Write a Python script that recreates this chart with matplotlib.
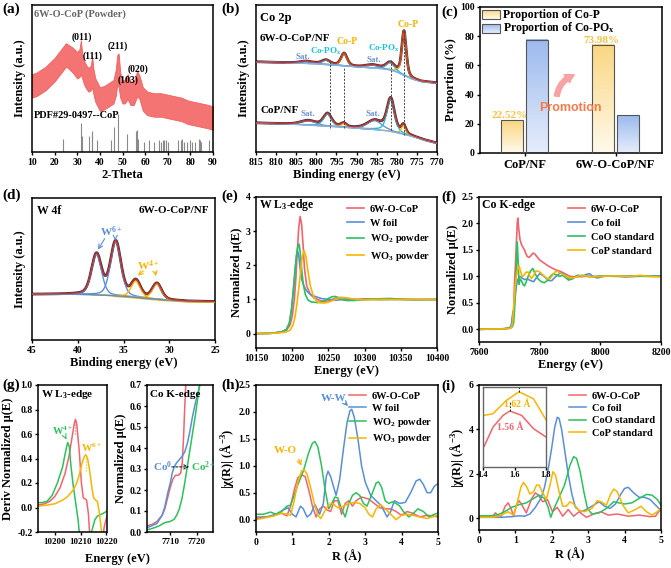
import numpy as np
import matplotlib
matplotlib.use('Agg')
import matplotlib.pyplot as plt
from matplotlib.patches import Rectangle, FancyArrowPatch

plt.rcParams.update({
    'font.family': ['Liberation Serif', 'DejaVu Serif'],
    'font.weight': 'bold',
    'axes.labelweight': 'bold',
    'font.size': 7.5,
    'mathtext.fontset': 'custom',
    'mathtext.rm': 'Liberation Serif:bold',
    'mathtext.it': 'Liberation Serif:italic:bold',
    'mathtext.bf': 'Liberation Serif:bold',
    'mathtext.default': 'rm',
    'axes.linewidth': 1.1,
    'xtick.major.width': 1.0, 'ytick.major.width': 1.0,
    'xtick.major.size': 2.5, 'ytick.major.size': 2.5,
    'xtick.major.pad': 1.5, 'ytick.major.pad': 1.5,
    'xtick.labelsize': 7, 'ytick.labelsize': 7,
    'axes.labelsize': 9, 'axes.labelpad': 2,
})

RED = '#f0646e'; BLUE = '#5a8fd6'; GREEN = '#2ebf5e'; YEL = '#f8b500'
CYAN = '#19c3d6'; SATC = '#6a93d0'; BGC = '#86b3e2'

# ---------------- (a) XRD data ----------------
xrd_x = [10, 12, 14, 16, 18, 20, 22, 24, 25, 26, 28, 30, 31, 31.6, 32.2, 33, 34, 35, 36, 36.6, 37.2, 38, 39, 40, 42, 44,
         46, 47, 47.7, 48.3, 49, 50, 51, 52.3, 53.5, 55, 56.5, 57.5, 59, 61, 64, 67, 70, 73, 76, 79, 82, 85, 88, 90]
xrd_upper = [53, 54, 56, 58, 61, 64, 68, 72, 74, 73, 71, 68, 70, 76, 67, 62, 59, 57, 59, 65, 56, 50, 47, 44, 45, 47,
             49, 56, 66, 67, 54, 49, 49, 53, 48, 48, 55, 52, 44, 41, 40, 40, 39, 38, 37, 35, 34, 33, 32, 31]
xrd_lower = [37, 38, 40, 42, 45, 48, 52, 56, 58, 57, 54, 50, 51, 53, 50, 46, 43, 41, 42, 44, 39, 34, 31, 28, 29, 31,
             33, 38, 46, 44, 37, 33, 33, 36, 32, 32, 38, 36, 28, 25, 24, 24, 23, 22, 21, 19, 18, 17, 16, 15]
pdf_pos = [23.7, 31.6, 31.9, 35.3, 36.3, 36.7, 38.9, 45.1, 46.2, 48.1, 52.2, 56.0, 56.4, 56.8, 59.7, 61.8, 64.1,
           66.2, 67.2, 67.9, 68.5, 69.2, 70.3, 74.7, 75.9, 76.5, 77.2, 78.3, 79.9, 80.7, 81.9, 83.6, 84.1, 84.6, 88.3]
pdf_int = [9, 20, 11, 11, 14, 12, 8, 8, 17, 26, 12, 14, 15, 9, 7, 8, 7, 8, 7, 8, 8, 8, 7, 8, 8, 9, 7, 7, 8, 7, 7,
           9, 8, 7, 8]
hkl_labels = ['(011)', '(111)', '(211)', '(103)', '(020)']
hkl_pos = [(31.8, 78), (36.9, 65), (48.0, 72), (52.4, 49), (56.8, 56)]

# ---------------- (b) Co 2p XPS ----------------
b_up_bg_x = [770, 774, 776, 778, 780, 782, 785, 790, 795, 800, 815]
b_up_bg_y = [47.0, 48.0, 49.5, 52.0, 54.5, 56.0, 57.0, 58.0, 59.0, 60.0, 61.4]
b_up_c = [778.2, 793.1, 781.6, 797.6, 786.0, 802.5]
b_up_h = [30.0, 8.5, 5.0, 3.0, 2.0, 1.5]
b_up_w = [1.3, 1.8, 2.5, 2.5, 4.0, 4.0]
b_up_kind = ['P', 'P', 'O', 'O', 'S', 'S']
b_lo_bg_x = [770, 773, 776, 779, 782, 785, 790, 795, 800, 805, 815]
b_lo_bg_y = [6.0, 8.0, 10.5, 12.5, 14.3, 15.2, 16.2, 17.2, 18.0, 18.8, 19.8]
b_lo_c = [781.5, 778.3, 797.2, 793.2, 785.5, 802.0]
b_lo_h = [22.0, 6.0, 8.5, 2.5, 6.0, 3.0]
b_lo_w = [2.2, 1.3, 2.4, 1.6, 4.5, 4.5]
b_lo_kind = ['O', 'P', 'O', 'P', 'S', 'S']
b_dash_x = [796.7, 793.0, 781.4, 778.1]
b_dash_y0 = [16, 16, 14.8, 11.4]
b_dash_y1 = [62.5, 58, 63.6, 83]

# ---------------- (c) proportions ----------------
c_cats = ['CoP/NF', '6W-O-CoP/NF']
c_cop = [22.52, 73.98]
c_copox = [77.48, 26.02]

# ---------------- (d) W 4f XPS ----------------
d_bg_x = [25, 28, 30, 32, 34, 36, 38, 40, 45]
d_bg_y = [27.0, 27.3, 28.0, 29.0, 30.3, 31.2, 31.8, 32.2, 32.2]
d_c = [37.95, 35.85, 33.65, 31.35]
d_h = [28.5, 38.0, 11.5, 11.0]
d_w = [1.3, 1.35, 1.2, 1.2]
d_kind = ['6', '6', '4', '4']

# ---------------- (e) W L3-edge XANES ----------------
e_red_x = [10150, 10170, 10185, 10192, 10197, 10200, 10203, 10205, 10207, 10209, 10211, 10213, 10215, 10217, 10220,
           10225, 10230, 10235, 10240, 10245, 10250, 10255, 10260, 10265, 10270, 10280, 10290, 10300, 10320, 10340,
           10360, 10380, 10400]
e_red_y = [0, 0.01, 0.04, 0.1, 0.25, 0.5, 1.0, 1.6, 2.4, 3.1, 3.43, 3.2, 2.6, 1.9, 1.4, 1.15, 1.05, 1.0, 0.96, 0.95,
           0.96, 1.0, 1.04, 1.06, 1.05, 1.02, 1.0, 1.02, 1.0, 1.01, 1.0, 1.0, 1.0]
e_blue_x = [10150, 10170, 10185, 10192, 10196, 10199, 10202, 10204, 10206, 10207.5, 10209, 10211, 10213, 10216,
            10220, 10225, 10230, 10240, 10250, 10260, 10270, 10280, 10300, 10320, 10340, 10360, 10400]
e_blue_y = [0, 0.01, 0.05, 0.12, 0.3, 0.7, 1.4, 1.9, 2.3, 2.42, 2.3, 1.9, 1.6, 1.4, 1.25, 1.15, 1.1, 1.03, 1.0, 0.98,
            1.0, 1.0, 1.0, 1.0, 1.0, 1.0, 1.0]
e_green_x = [10150, 10170, 10185, 10192, 10196, 10199, 10202, 10204, 10206, 10208, 10209.5, 10211, 10213, 10215,
             10218, 10222, 10226, 10230, 10235, 10240, 10245, 10250, 10255, 10259, 10263, 10268, 10275, 10285,
             10300, 10320, 10335, 10350, 10370, 10400]
e_green_y = [0, 0.01, 0.05, 0.12, 0.3, 0.7, 1.3, 1.8, 2.3, 2.58, 2.62, 2.4, 1.9, 1.5, 1.15, 0.98, 0.93, 0.92, 0.91,
             0.92, 0.97, 1.03, 1.08, 1.09, 1.06, 1.0, 0.97, 0.97, 1.0, 1.02, 1.03, 1.01, 0.99, 1.0]
e_yel_x = [10150, 10170, 10190, 10197, 10201, 10204, 10207, 10210, 10212, 10214, 10216.5, 10219, 10222, 10225, 10230,
           10235, 10240, 10245, 10250, 10255, 10260, 10265, 10270, 10280, 10290, 10300, 10320, 10340, 10360, 10400]
e_yel_y = [0, 0.01, 0.04, 0.1, 0.25, 0.5, 0.95, 1.5, 1.9, 2.25, 2.43, 2.25, 1.8, 1.4, 1.05, 0.93, 0.9, 0.9, 0.92,
           0.96, 1.01, 1.05, 1.06, 1.03, 1.0, 0.99, 1.0, 1.0, 1.0, 1.0]

# ---------------- (f) Co K-edge XANES ----------------
f_red_x = [7600, 7650, 7680, 7700, 7705, 7708, 7710, 7714, 7716, 7718, 7720, 7723, 7726, 7728, 7731, 7735, 7740, 7745,
           7750, 7755, 7760, 7766, 7772, 7778, 7783, 7790, 7800, 7810, 7820, 7830, 7840, 7850, 7860, 7870, 7880,
           7890, 7900, 7920, 7950, 8000, 8050, 8100, 8150, 8200]
f_red_y = [0, 0, 0.01, 0.02, 0.05, 0.1, 0.22, 0.27, 0.7, 1.0, 1.2, 1.6, 2.0, 2.1, 1.9, 1.7, 1.6, 1.55, 1.5, 1.42,
           1.37, 1.36, 1.4, 1.44, 1.43, 1.38, 1.31, 1.27, 1.23, 1.19, 1.16, 1.13, 1.11, 1.09, 1.06, 1.03, 1.0, 0.99,
           1.0, 1.0, 1.01, 1.0, 1.01, 1.01]
f_blue_x = [7600, 7680, 7700, 7706, 7709, 7712, 7715, 7718, 7721, 7725, 7729, 7735, 7742, 7750, 7760, 7770, 7780,
            7790, 7800, 7810, 7820, 7830, 7840, 7850, 7860, 7870, 7880, 7890, 7900, 7910, 7925, 7940, 7955, 7965,
            7975, 7990, 8010, 8040, 8080, 8120, 8160, 8200]
f_blue_y = [0, 0.01, 0.03, 0.06, 0.2, 0.33, 0.37, 0.55, 0.72, 0.88, 0.95, 1.0, 0.97, 0.94, 0.95, 0.92, 0.9, 0.98,
            1.05, 1.02, 0.97, 0.92, 0.92, 0.98, 1.03, 1.07, 1.05, 0.98, 0.94, 0.96, 1.02, 1.0, 1.04, 1.05, 1.0, 0.97,
            1.0, 1.01, 0.99, 1.0, 1.01, 1.01]
f_green_x = [7600, 7690, 7705, 7710, 7714, 7717, 7720, 7723, 7726, 7729, 7732, 7736, 7740, 7745, 7750, 7756, 7762,
             7770, 7777, 7785, 7795, 7805, 7815, 7825, 7835, 7845, 7855, 7865, 7875, 7885, 7895, 7905, 7920, 7940,
             7960, 7980, 8000, 8050, 8100, 8150, 8200]
f_green_y = [0, 0.01, 0.03, 0.05, 0.12, 0.35, 0.7, 1.2, 1.65, 1.3, 0.85, 0.95, 0.92, 0.85, 0.82, 0.9, 1.0, 1.1,
             1.15, 1.05, 0.95, 0.9, 0.88, 0.92, 1.0, 1.05, 1.03, 1.0, 1.02, 0.98, 0.93, 0.95, 1.01, 1.02, 1.0, 0.99,
             1.01, 1.0, 1.01, 1.0, 1.0]
f_yel_x = [7600, 7690, 7705, 7710, 7713, 7716, 7719, 7723, 7727, 7732, 7737, 7742, 7748, 7755, 7762, 7768, 7773,
           7780, 7788, 7795, 7805, 7815, 7825, 7832, 7840, 7850, 7858, 7868, 7880, 7890, 7900, 7915, 7930, 7950,
           7970, 8000, 8050, 8100, 8130, 8160, 8200]
f_yel_y = [0, 0.01, 0.02, 0.1, 0.3, 0.55, 0.8, 1.0, 1.12, 1.2, 1.1, 1.0, 1.02, 1.08, 1.08, 1.0, 0.96, 1.02, 1.1,
           1.1, 1.06, 1.0, 0.96, 0.95, 1.0, 1.08, 1.1, 1.06, 1.03, 0.99, 0.97, 0.98, 1.01, 1.01, 0.99, 1.0, 1.01,
           1.0, 1.02, 1.0, 0.99]

# ---------------- (g) derivative W L3 & Co K pre-edge ----------------
g1_red_x = [10193.5, 10196, 10198, 10200, 10202, 10204, 10205.5, 10206.5, 10207.5, 10208, 10208.5, 10209.5,
            10210.3, 10211, 10211.7, 10212.3, 10213, 10213.6, 10216, 10218.5, 10219.2, 10220.2]
g1_red_y = [0.02, 0.03, 0.05, 0.09, 0.16, 0.28, 0.42, 0.55, 0.68, 0.72, 0.68, 0.45, 0.2, 0.08, 0.07, 0.06, -0.05,
            -0.25, -0.45, -0.25, -0.15, -0.07]
g1_green_x = [10193.5, 10195, 10197, 10199, 10201, 10203, 10204.3, 10205, 10205.6, 10206.2, 10207, 10208, 10209,
              10209.7, 10212, 10214.2, 10215.5, 10216.5, 10218.5, 10220.2]
g1_green_y = [0.04, 0.04, 0.05, 0.1, 0.2, 0.33, 0.47, 0.53, 0.5, 0.35, 0.2, 0.05, -0.1, -0.25, -0.5, -0.2, -0.1,
              -0.07, -0.05, -0.03]
g1_yel_x = [10193.5, 10197, 10200, 10203, 10205, 10207, 10208.5, 10209.5, 10210.5, 10211.5, 10212, 10212.7, 10213.5,
            10214.3, 10215, 10215.8, 10216.5, 10217.3, 10218.2, 10219]
g1_yel_y = [0.01, 0.02, 0.03, 0.06, 0.09, 0.14, 0.2, 0.27, 0.36, 0.42, 0.43, 0.4, 0.3, 0.17, 0.08, 0.06, 0.05, -0.05,
            -0.22, -0.4]
g2_blue_x = [7701.25, 7703, 7705, 7707, 7708, 7709, 7710, 7710.8, 7711.5, 7712.5, 7713.5, 7714.5, 7715.5, 7716.5,
             7717.5, 7718.5, 7719.5, 7720.5, 7721.5]
g2_blue_y = [0.02, 0.03, 0.04, 0.08, 0.12, 0.18, 0.23, 0.28, 0.31, 0.33, 0.345, 0.36, 0.38, 0.42, 0.48, 0.55, 0.61,
             0.66, 0.71]
g2_red_x = [7701.25, 7703, 7705, 7707, 7708, 7709, 7710, 7711, 7712, 7713, 7714, 7714.6, 7715.1, 7715.5, 7716]
g2_red_y = [0.03, 0.035, 0.05, 0.08, 0.11, 0.16, 0.21, 0.25, 0.27, 0.27, 0.28, 0.33, 0.45, 0.58, 0.72]
g2_green_x = [7701.25, 7704, 7706, 7708, 7710, 7711.5, 7712.5, 7713.5, 7714.5, 7715.5, 7716.5, 7717.5, 7718.5,
              7719.5, 7720.5, 7721.2]
g2_green_y = [0.01, 0.02, 0.03, 0.045, 0.05, 0.06, 0.08, 0.11, 0.16, 0.23, 0.31, 0.39, 0.47, 0.55, 0.64, 0.71]

# ---------------- (h) W FT-EXAFS ----------------
h_red_x = [0, 0.3, 0.5, 0.7, 0.85, 0.95, 1.05, 1.15, 1.25, 1.35, 1.45, 1.55, 1.65, 1.75, 1.85, 1.95, 2.05, 2.15,
           2.25, 2.35, 2.45, 2.55, 2.65, 2.75, 2.9, 3.0, 3.1, 3.25, 3.4, 3.55, 3.7, 3.85, 4.0, 4.15, 4.3, 4.5, 4.7,
           4.85, 5.0]
h_red_y = [0.05, 0.05, 0.08, 0.12, 0.07, 0.25, 0.55, 0.78, 0.83, 0.8, 0.55, 0.25, 0.05, 0.2, 0.25, 0.18, 0.15, 0.35,
           0.35, 0.1, 0.3, 0.35, 0.25, 0.35, 0.42, 0.4, 0.38, 0.3, 0.22, 0.2, 0.2, 0.15, 0.08, 0.15, 0.12, 0.05, 0.08,
           0.07, 0.05]
h_blue_x = [0, 0.3, 0.55, 0.75, 0.88, 1.0, 1.1, 1.22, 1.3, 1.4, 1.5, 1.62, 1.75, 1.85, 1.93, 1.98, 2.05, 2.2, 2.3,
            2.4, 2.5, 2.58, 2.63, 2.7, 2.8, 2.9, 3.0, 3.15, 3.3, 3.45, 3.6, 3.7, 3.8, 3.95, 4.1, 4.25, 4.4, 4.5, 4.6,
            4.7, 4.8, 4.9, 5.0]
h_blue_y = [0.02, 0.05, 0.1, 0.18, 0.22, 0.1, 0.05, 0.25, 0.2, 0.05, 0.1, 0.28, 0.1, 0.3, 0.8, 0.9, 0.8, 0.45,
            0.75, 1.3, 1.8, 2.02, 2.05, 1.9, 1.5, 1.0, 0.7, 0.45, 0.35, 0.25, 0.05, 0.15, 0.35, 0.3, 0.32, 0.5, 0.72,
            0.75, 0.65, 0.5, 0.5, 0.62, 0.67]
h_green_x = [0, 0.2, 0.4, 0.55, 0.7, 0.85, 0.95, 1.05, 1.15, 1.3, 1.45, 1.55, 1.62, 1.7, 1.8, 1.9, 2.0, 2.08, 2.17,
             2.25, 2.35, 2.45, 2.55, 2.65, 2.75, 2.85, 2.95, 3.05, 3.2, 3.3, 3.37, 3.45, 3.55, 3.65, 3.75, 3.85, 3.95,
             4.05, 4.2, 4.3, 4.45, 4.6, 4.75, 4.9, 5.0]
h_green_y = [0.1, 0.1, 0.14, 0.1, 0.15, 0.25, 0.27, 0.45, 0.65, 0.9, 1.25, 1.42, 1.45, 1.35, 1.0, 0.55, 0.2, 0.3,
             0.42, 0.4, 0.2, 0.05, 0.3, 0.45, 0.5, 0.45, 0.3, 0.25, 0.5, 0.68, 0.7, 0.6, 0.35, 0.3, 0.33, 0.3, 0.25,
             0.15, 0.05, 0.1, 0.2, 0.15, 0.05, 0.1, 0.12]
h_yel_x = [0, 0.3, 0.5, 0.7, 0.85, 0.95, 1.05, 1.15, 1.25, 1.32, 1.4, 1.5, 1.6, 1.7, 1.78, 1.88, 2.0, 2.1, 2.25, 2.4,
           2.55, 2.7, 2.85, 3.0, 3.1, 3.2, 3.3, 3.42, 3.55, 3.7, 3.85, 4.0, 4.15, 4.3, 4.5, 4.7, 4.85, 5.0]
h_yel_y = [0.0, 0.04, 0.07, 0.12, 0.1, 0.08, 0.35, 0.7, 0.9, 0.93, 0.85, 0.6, 0.3, 0.08, 0.02, 0.15, 0.28, 0.3, 0.22,
           0.25, 0.3, 0.32, 0.3, 0.22, 0.1, 0.05, 0.2, 0.28, 0.2, 0.1, 0.0, 0.08, 0.1, 0.08, 0.05, 0.02, 0.05, 0.08]

# ---------------- (i) Co FT-EXAFS ----------------
i_red_x = [0, 0.2, 0.35, 0.45, 0.6, 0.72, 0.8, 0.88, 0.95, 1.03, 1.1, 1.18, 1.3, 1.45, 1.55, 1.63, 1.75, 1.88, 2.02,
           2.15, 2.3, 2.45, 2.6, 2.75, 2.95, 3.15, 3.35, 3.55, 3.8, 4.1, 4.4, 4.7, 4.85, 5.0]
i_red_y = [0.1, 0.12, 0.05, 0.25, 0.05, 0.55, 0.7, 0.45, 0.1, 0.6, 0.8, 0.6, 0.25, 0.9, 1.15, 1.05, 0.75, 0.85, 0.3,
           0.5, 0.1, 0.4, 0.1, 0.3, 0.05, 0.2, 0.3, 0.15, 0.2, 0.1, 0.15, 0.08, 0.1, 0.45]
i_blue_x = [0, 0.3, 0.6, 0.9, 1.1, 1.25, 1.4, 1.55, 1.7, 1.8, 1.9, 2.0, 2.08, 2.15, 2.2, 2.27, 2.35, 2.45, 2.55,
            2.65, 2.8, 2.95, 3.1, 3.3, 3.45, 3.6, 3.75, 3.9, 4.0, 4.1, 4.25, 4.4, 4.55, 4.7, 4.85, 5.0]
i_blue_y = [0.05, 0.05, 0.05, 0.08, 0.12, 0.1, 0.2, 0.5, 0.9, 1.4, 2.2, 3.2, 4.1, 4.55, 4.5, 4.0, 3.1, 2.0, 1.1,
            0.5, 0.3, 0.4, 0.55, 0.75, 0.55, 0.45, 0.65, 1.1, 1.35, 1.4, 1.15, 0.95, 0.95, 0.85, 0.6, 0.35]
i_green_x = [0, 0.3, 0.5, 0.7, 0.9, 1.1, 1.3, 1.5, 1.65, 1.8, 1.9, 1.97, 2.05, 2.2, 2.35, 2.5, 2.6, 2.68, 2.78,
             2.88, 2.98, 3.1, 3.3, 3.5, 3.7, 3.85, 4.0, 4.2, 4.4, 4.6, 4.75, 4.9, 5.0]
i_green_y = [0.12, 0.12, 0.15, 0.3, 0.5, 0.62, 0.7, 0.9, 1.05, 0.9, 0.5, 0.05, 0.4, 0.95, 1.5, 2.4, 2.78, 2.7, 2.1,
             1.2, 0.45, 0.2, 0.25, 0.45, 0.75, 0.7, 0.65, 0.7, 0.9, 1.08, 1.05, 0.85, 0.6]
i_yel_x = [0, 0.3, 0.55, 0.8, 0.95, 1.05, 1.15, 1.22, 1.3, 1.4, 1.5, 1.58, 1.65, 1.75, 1.85, 1.95, 2.03, 2.1, 2.2,
           2.3, 2.4, 2.5, 2.6, 2.75, 2.9, 3.1, 3.25, 3.35, 3.5, 3.62, 3.7, 3.8, 3.95, 4.1, 4.3, 4.45, 4.6, 4.75, 4.9,
           5.0]
i_yel_y = [0.05, 0.05, 0.1, 0.3, 0.15, 0.7, 1.4, 1.62, 1.45, 1.1, 1.2, 1.5, 1.5, 1.15, 0.85, 1.5, 2.1, 1.95, 1.2,
           0.55, 0.55, 0.75, 0.65, 0.35, 0.3, 0.45, 0.8, 0.75, 0.6, 1.1, 1.32, 1.2, 0.6, 0.25, 0.4, 0.55, 0.3, 0.15,
           0.3, 0.45]
ins_yel_x = [1.4, 1.41, 1.464, 1.549, 1.628, 1.72, 1.8]
ins_yel_y = [0.645, 0.646, 0.667, 0.833, 0.94, 0.854, 0.59]
ins_red_x = [1.4, 1.41, 1.464, 1.528, 1.57, 1.645, 1.72, 1.8]
ins_red_y = [0.24, 0.27, 0.5, 0.646, 0.70, 0.646, 0.48, 0.375]

# ================= figure =================
W, H = 671, 568
fig = plt.figure(figsize=(W / 100, H / 100), dpi=100)


def add_ax(l, t, r, b):
    return fig.add_axes([l / W, 1 - b / H, (r - l) / W, (b - t) / H])


def plabel(x, y, s):
    fig.text(x / W, 1 - y / H, s, fontsize=11, fontweight='bold', va='center', ha='left')


def pv(x, c, h, w, eta=0.45):
    g = np.exp(-4 * np.log(2) * ((x - c) / w) ** 2)
    L = 1 / (1 + 4 * ((x - c) / w) ** 2)
    return h * (eta * L + (1 - eta) * g)


def noticks_y(ax):
    ax.set_yticks([])


# ---- (a) ----
ax = add_ax(32, 5, 213, 152)
ax.fill_between(xrd_x, xrd_lower, xrd_upper, color='#f47474', lw=0.6, edgecolor='#f06060')
ax.vlines(pdf_pos, 0, pdf_int, color='#8a8a8a', lw=0.8)
for s, (x, y) in zip(hkl_labels, hkl_pos):
    ax.text(x, y, s, fontsize=7, ha='center', va='center')
ax.text(10.8, 94, '6W-O-CoP (Powder)', fontsize=7.5, color='#666666', va='center')
ax.text(10.8, 25, 'PDF#29-0497--CoP', fontsize=7.5, va='center')
ax.set_xlim(10, 90); ax.set_ylim(0, 100)
ax.set_xticks(range(10, 91, 10)); noticks_y(ax)
ax.set_xlabel('2-Theta'); ax.set_ylabel('Intensity (a.u.)', labelpad=4)
plabel(2, 9, '(a)')

# ---- (b) ----
ax = add_ax(256, 5, 437, 152)
xb = np.linspace(770, 815, 900)
colmap = {'P': YEL, 'O': CYAN, 'S': SATC}
for bgx, bgy, cs, hs, ws, ks in [(b_up_bg_x, b_up_bg_y, b_up_c, b_up_h, b_up_w, b_up_kind),
                                  (b_lo_bg_x, b_lo_bg_y, b_lo_c, b_lo_h, b_lo_w, b_lo_kind)]:
    bg = np.interp(xb, bgx, bgy)
    tot = bg.copy()
    for c, h, w in zip(cs, hs, ws):
        tot += pv(xb, c, h, w)
    ax.plot(xb, tot, color='#3a3a3a', lw=2.0, zorder=2)
    for c, h, w, k in zip(cs, hs, ws, ks):
        m = np.abs(xb - c) < 4 * w
        ax.plot(xb[m], bg[m] + pv(xb[m], c, h, w), color=colmap[k], lw=1.0, zorder=3)
    ax.plot(xb, bg, color=BGC, lw=1.0, zorder=4)
    ax.plot(xb, tot, color='#d42a2a', lw=0.9, zorder=5)
for x, y0, y1 in zip(b_dash_x, b_dash_y0, b_dash_y1):
    ax.plot([x, x], [y0, y1], ls=(0, (2, 1.5)), color='#444444', lw=0.7, zorder=6)
ax.text(814, 91, 'Co 2p', fontsize=9, va='center')
ax.text(814, 77, '6W-O-CoP/NF', fontsize=8, va='center')
ax.text(814, 28.5, 'CoP/NF', fontsize=8, va='center')
ax.text(792.4, 75, 'Co-P', color=YEL, fontsize=7, ha='center', va='center')
ax.text(777.1, 86.5, 'Co-P', color=YEL, fontsize=7, ha='center', va='center')
ax.text(797.6, 68.5, 'Co-PO$_x$', color=CYAN, fontsize=6.5, ha='center', va='center')
ax.text(783.3, 70.5, 'Co-PO$_x$', color=CYAN, fontsize=6.5, ha='center', va='center')
ax.text(803.3, 64.5, 'Sat.', color=SATC, fontsize=6.5, ha='center', va='center')
ax.text(785.6, 62.5, 'Sat.', color=SATC, fontsize=6.5, ha='center', va='center')
ax.text(802, 26, 'Sat.', color=SATC, fontsize=6.5, ha='center', va='center')
ax.text(786, 26, 'Sat.', color=SATC, fontsize=6.5, ha='center', va='center')
ax.set_xlim(815, 770); ax.set_ylim(0, 100)
ax.set_xticks(range(815, 769, -5)); noticks_y(ax)
ax.set_xlabel('Binding energy (eV)'); ax.set_ylabel('Intensity (a.u.)', labelpad=4)
plabel(221, 9, '(b)')

# ---- (c) ----
ax = add_ax(480, 7, 662, 153)
Y_TOP, Y_BOT = (0.98, 0.84, 0.51), (1.0, 0.98, 0.92)
B_TOP, B_BOT = (0.61, 0.73, 0.93), (0.90, 0.93, 0.99)


def grad(ax, x0, x1, y0, y1, ctop, cbot):
    t = np.linspace(0, 1, 64)[:, None]
    arr = np.array(ctop)[None, None, :] * (1 - t[..., None]) + np.array(cbot)[None, None, :] * t[..., None]
    ax.imshow(arr, extent=(x0, x1, y0, y1), aspect='auto', origin='upper', zorder=2)
    ax.add_patch(Rectangle((x0, y0), x1 - x0, y1 - y0, fill=False, ec='#555555', lw=0.8, zorder=3))


bw = 0.24
for i, (v1, v2) in enumerate(zip(c_cop, c_copox)):
    grad(ax, i - 0.135 - bw / 2, i - 0.135 + bw / 2, 0, v1, Y_TOP, Y_BOT)
    grad(ax, i + 0.135 - bw / 2, i + 0.135 + bw / 2, 0, v2, B_TOP, B_BOT)
ax.text(-0.17, c_cop[0] + 3, f'{c_cop[0]:.2f}%', color='#f5c242', fontsize=8, ha='center', va='center')
ax.text(0.84, c_cop[1] + 3.3, f'{c_cop[1]:.2f}%', color='#f5c242', fontsize=8, ha='center', va='center')
grad(ax, -0.47, -0.27, 91.6, 97.7, Y_TOP, Y_BOT)
grad(ax, -0.47, -0.27, 82.5, 88.6, B_TOP, B_BOT)
ax.text(-0.24, 94.7, 'Proportion of Co-P', fontsize=8.5, va='center')
ax.text(-0.24, 85.5, 'Proportion of Co-PO$_x$', fontsize=8.5, va='center')
ax.text(0.50, 30.5, 'Promotion', color='#f47a4a', fontsize=9, fontweight='bold', family='Liberation Sans',
        ha='center', va='center')
ax.add_patch(FancyArrowPatch((0.35, 37.0), (0.575, 54), connectionstyle='arc3,rad=-0.35',
                             arrowstyle='simple,head_width=7,head_length=6,tail_width=3.5',
                             color='#f7a3a3', zorder=4, mutation_scale=1))
ax.set_xlim(-0.49, 1.51); ax.set_ylim(0, 100)
ax.set_xticks([0, 1]); ax.set_xticklabels(c_cats, fontsize=9)
ax.set_yticks(range(0, 101, 20))
ax.set_ylabel('Proportion (%)')
plabel(441, 12, '(c)')

# ---- (d) ----
ax = add_ax(32, 198, 215, 340)
xd = np.linspace(25, 45, 800)
bgd = np.interp(xd, d_bg_x, d_bg_y)
totd = bgd.copy()
for c, h, w in zip(d_c, d_h, d_w):
    totd += pv(xd, c, h, w, 0.3)
ax.plot(xd, totd, color='#3a3a3a', lw=2.0, zorder=2)
ax.plot(xd, bgd - 0.5 * (xd < 36), color=YEL, lw=1.0, zorder=3)
for c, h, w, k in zip(d_c, d_h, d_w, d_kind):
    m = np.abs(xd - c) < 4 * w
    ax.plot(xd[m], bgd[m] + pv(xd[m], c, h, w, 0.3), color=BLUE if k == '6' else YEL, lw=1.0, zorder=3)
ax.plot(xd, bgd, color=BLUE, lw=1.0, zorder=4)
ax.plot(xd, totd, color='#d42a2a', lw=0.9, zorder=5)
ax.text(44.4, 91, 'W 4f', fontsize=8.5, va='center')
ax.text(25.6, 91, '6W-O-CoP/NF', fontsize=8, va='center', ha='right')
ax.text(36.3, 76, 'W$^{6+}$', color=BLUE, fontsize=8, ha='center', va='center')
ax.text(32.3, 52.5, 'W$^{4+}$', color=YEL, fontsize=8, ha='center', va='center')
for tx, ty, col, targets in [(36.9, 73, BLUE, [(37.95, 62), (35.9, 70)]),
                             (32.6, 50, YEL, [(33.65, 44), (31.4, 43)])]:
    for (px, py) in targets:
        ax.annotate('', xy=(px, py), xytext=(tx if px > tx - 0.5 else tx - 1.0, ty),
                    arrowprops=dict(arrowstyle='->', color=col, lw=0.8))
ax.set_xlim(45, 25); ax.set_ylim(0, 100)
ax.set_xticks(range(45, 24, -5)); noticks_y(ax)
ax.set_xlabel('Binding energy (eV)'); ax.set_ylabel('Intensity (a.u.)', labelpad=4)
plabel(2, 195, '(d)')

# ---- (e) ----
ax = add_ax(256, 197, 437, 348)
ax.plot(e_red_x, e_red_y, color=RED, lw=1.2, label='6W-O-CoP')
ax.plot(e_blue_x, e_blue_y, color=BLUE, lw=1.2, label='W foil')
ax.plot(e_green_x, e_green_y, color=GREEN, lw=1.2, label='WO$_2$ powder')
ax.plot(e_yel_x, e_yel_y, color=YEL, lw=1.2, label='WO$_3$ powder')
ax.legend(loc='upper right', frameon=False, fontsize=7.5, handlelength=1.7, labelspacing=0.45, borderaxespad=0.3,
          handletextpad=0.5)
ax.text(10154, 3.78, 'W L$_3$-edge', fontsize=8.5, va='center')
ax.set_xlim(10150, 10400); ax.set_ylim(-0.42, 4.0)
ax.set_xticks(range(10150, 10401, 50)); ax.set_yticks(range(0, 5))
ax.set_xlabel('Energy (eV)'); ax.set_ylabel('Normalized μ(E)')
plabel(221, 196, '(e)')

# ---- (f) ----
ax = add_ax(479, 197, 661, 342)
ax.plot(f_red_x, f_red_y, color=RED, lw=1.2, label='6W-O-CoP')
ax.plot(f_blue_x, f_blue_y, color=BLUE, lw=1.2, label='Co foil')
ax.plot(f_green_x, f_green_y, color=GREEN, lw=1.2, label='CoO standard')
ax.plot(f_yel_x, f_yel_y, color=YEL, lw=1.2, label='CoP standard')
ax.legend(loc='upper right', frameon=False, fontsize=7.5, handlelength=1.7, labelspacing=0.45, borderaxespad=0.3,
          handletextpad=0.5)
ax.text(7610, 2.35, 'Co K-edge', fontsize=8.5, va='center')
ax.set_xlim(7600, 8200); ax.set_ylim(-0.24, 2.5)
ax.set_xticks([7600, 7800, 8000, 8200]); ax.set_yticks(np.arange(0, 2.51, 0.5))
ax.set_yticklabels([f'{v:.1f}' for v in np.arange(0, 2.51, 0.5)])
ax.set_xlabel('Energy (eV)'); ax.set_ylabel('Normalized μ(E)')
plabel(441, 197, '(f)')

# ---- (g) ----
ax = add_ax(38, 385, 107, 532)
ax.plot(g1_red_x, g1_red_y, color=RED, lw=1.1)
ax.plot(g1_green_x, g1_green_y, color=GREEN, lw=1.1)
ax.plot(g1_yel_x, g1_yel_y, color=YEL, lw=1.1)
ax.plot([10208, 10208], [0.6, 0.72], ls=':', color=RED, lw=0.8)
ax.plot([10212, 10212], [0.3, 0.43], ls=':', color=YEL, lw=0.8)
ax.text(10203.0, 0.63, 'W$^{4+}$', color=GREEN, fontsize=7.5, ha='center', va='center')
ax.annotate('', xy=(10205.0, 0.535), xytext=(10203.7, 0.59), arrowprops=dict(arrowstyle='->', color=GREEN, lw=0.8))
ax.text(10214.0, 0.49, 'W$^{6+}$', color=YEL, fontsize=7.5, ha='center', va='center')
ax.text(10194.5, 0.92, 'W L$_3$-edge', fontsize=8, va='center')
ax.set_xlim(10193.5, 10220.2); ax.set_ylim(-0.2, 1.0)
ax.set_xticks([10200, 10210, 10220]); ax.set_yticks(np.arange(-0.2, 1.01, 0.2))
ax.set_yticklabels([f'{v:.1f}' if abs(v) > 1e-9 else '0.0' for v in np.arange(-0.2, 1.01, 0.2)])
ax.tick_params(axis='x', labelsize=6.5)
ax.set_ylabel('Deriv Normalized μ(E)')
plabel(2, 385, '(g)')

ax = add_ax(147, 385, 213, 532)
ax.plot(g2_red_x, g2_red_y, color=RED, lw=1.1)
ax.plot(g2_blue_x, g2_blue_y, color=BLUE, lw=1.1)
ax.plot(g2_green_x, g2_green_y, color=GREEN, lw=1.1)
ax.annotate('', xy=(7718.3, 0.31), xytext=(7709.6, 0.31),
            arrowprops=dict(arrowstyle='->', color='#222222', lw=0.8, ls=(0, (2, 1.5))))
ax.text(7707.2, 0.31, 'Co$^0$', color=BLUE, fontsize=8, ha='center', va='center')
ax.text(7722.6, 0.31, 'Co$^{2+}$', color=GREEN, fontsize=8, ha='center', va='center')
ax.text(7702.3, 0.655, 'Co K-edge', fontsize=8, va='center')
ax.set_xlim(7701.25, 7726.25); ax.set_ylim(0, 0.7)
ax.set_xticks([7710, 7720]); ax.set_yticks(np.arange(0, 0.71, 0.1))
ax.set_yticklabels([f'{v:.1f}' for v in np.arange(0, 0.71, 0.1)])
ax.tick_params(axis='x', labelsize=6.5)
ax.set_ylabel('Normalized μ(E)')
fig.text(117 / W, 1 - 559 / H, 'Energy (eV)', fontsize=9, fontweight='bold', ha='center', va='center')

# ---- (h) ----
ax = add_ax(256, 385, 438, 532)
ax.plot(h_red_x, h_red_y, color=RED, lw=1.1, label='6W-O-CoP')
ax.plot(h_blue_x, h_blue_y, color=BLUE, lw=1.1, label='W foil')
ax.plot(h_green_x, h_green_y, color=GREEN, lw=1.1, label='WO$_2$ powder')
ax.plot(h_yel_x, h_yel_y, color=YEL, lw=1.1, label='WO$_3$ powder')
ax.legend(loc='upper right', frameon=False, fontsize=7.5, handlelength=1.7, labelspacing=0.3, borderaxespad=0.2,
          handletextpad=0.5)
ax.text(0.80, 1.28, 'W-O', color=YEL, fontsize=8, ha='center', va='center')
ax.annotate('', xy=(1.27, 0.95), xytext=(1.15, 1.17), arrowprops=dict(arrowstyle='->', color=YEL, lw=0.9))
ax.text(2.12, 2.25, 'W-W', color=BLUE, fontsize=8, ha='center', va='center')
ax.annotate('', xy=(2.58, 2.07), xytext=(2.4, 2.2), arrowprops=dict(arrowstyle='->', color=BLUE, lw=0.9))
ax.set_xlim(0, 5); ax.set_ylim(-0.23, 2.5)
ax.set_xticks(range(0, 6)); ax.set_yticks(np.arange(0, 2.51, 0.5))
ax.set_yticklabels([f'{v:.1f}' for v in np.arange(0, 2.51, 0.5)])
ax.set_xlabel('R (Å)'); ax.set_ylabel('|χ(R)| (Å$^{-3}$)')
plabel(221, 385, '(h)')

# ---- (i) ----
ax = add_ax(479, 385, 661, 530)
ax.plot(i_red_x, i_red_y, color=RED, lw=1.1, label='6W-O-CoP')
ax.plot(i_blue_x, i_blue_y, color=BLUE, lw=1.1, label='Co foil')
ax.plot(i_green_x, i_green_y, color=GREEN, lw=1.1, label='CoO standard')
ax.plot(i_yel_x, i_yel_y, color=YEL, lw=1.1, label='CoP standard')
ax.legend(loc='upper right', frameon=False, fontsize=7.5, handlelength=1.7, labelspacing=0.3, borderaxespad=0.2,
          handletextpad=0.5)
ax.set_xlim(0, 5); ax.set_ylim(-0.52, 6)
ax.set_xticks(range(0, 6)); ax.set_yticks([0, 2, 4, 6])
ax.set_xlabel('R (Å)'); ax.set_ylabel('|χ(R)| (Å$^{-3}$)')
plabel(441, 386, '(i)')

axi = add_ax(483, 387, 546, 467)
axi.plot(ins_yel_x, ins_yel_y, color=YEL, lw=1.1)
axi.plot(ins_red_x, ins_red_y, color=RED, lw=1.1)
axi.plot([1.628, 1.628], [0.94, 1.0], ls=(0, (2, 1.5)), color='#222222', lw=0.7)
axi.plot([1.57, 1.57], [0.70, 0.82], ls=(0, (2, 1.5)), color='#222222', lw=0.7)
axi.text(1.62, 0.78, '1.62 Å', color=YEL, fontsize=7, ha='center', va='center')
axi.text(1.57, 0.49, '1.56 Å', color=RED, fontsize=7, ha='center', va='center')
axi.set_xlim(1.4, 1.8); axi.set_ylim(0, 1)
axi.set_xticks([1.4, 1.6, 1.8]); axi.set_yticks([])
axi.tick_params(axis='x', labelsize=6, length=2, pad=1)
for s in axi.spines.values():
    s.set_color('#666666'); s.set_linewidth(1.0)

fig.savefig('out.png', dpi=100)
